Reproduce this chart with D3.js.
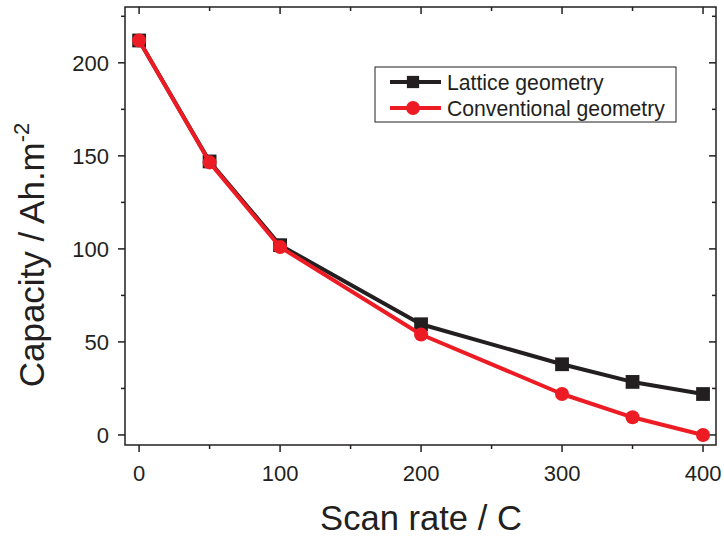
<!DOCTYPE html>
<html>
<head>
<meta charset="utf-8">
<script src="https://cdn.jsdelivr.net/npm/d3@7"></script>
<style>
  body { margin: 0; background: #fff; }
  text { font-family: "Liberation Sans", Arial, sans-serif; fill: #231f20; }
</style>
</head>
<body>
<div id="chart"></div>
<script>
// data
var rates = [0, 50, 100, 200, 300, 350, 400];
var lattice = [212, 147, 102, 59.5, 38, 28.5, 22];
var conventional = [212, 146.5, 101, 54, 22, 9.5, 0];
var xTicks = [0, 100, 200, 300, 400];
var yTicks = [0, 50, 100, 150, 200];
var seriesNames = ["Lattice geometry", "Conventional geometry"];
var seriesColors = ["#231f20", "#ed1c24"];

(function() {
var W = 724, H = 537;
var pL = 125, pR = 716, pT = 7, pB = 445;

var svg = d3.select("#chart").append("svg")
	.attr("width", W).attr("height", H);

var x = d3.scaleLinear().domain([-10, 409.2]).range([pL, pR]);
var y = d3.scaleLinear().domain([-5.4, 230]).range([pB, pT]);

var axisColor = "#231f20";

// frame
svg.append("rect")
	.attr("x", pL).attr("y", pT)
	.attr("width", pR - pL).attr("height", pB - pT)
	.attr("fill", "none").attr("stroke", axisColor).attr("stroke-width", 1.5);

var xMinor = d3.range(0, 401, 50);
var yMinor = d3.range(0, 226, 25);

// bottom axis (outward), top axis (inward)
xMinor.forEach(function(v) {
	var major = xTicks.indexOf(v) >= 0;
	var len = major ? 7 : 4;
	svg.append("line").attr("x1", x(v)).attr("x2", x(v))
		.attr("y1", pB).attr("y2", pB + len)
		.attr("stroke", axisColor).attr("stroke-width", 1.5);
	svg.append("line").attr("x1", x(v)).attr("x2", x(v))
		.attr("y1", pT).attr("y2", pT + len)
		.attr("stroke", axisColor).attr("stroke-width", 1.5);
});
// left axis (outward), right axis (inward)
yMinor.forEach(function(v) {
	var major = yTicks.indexOf(v) >= 0;
	var len = major ? 7 : 4;
	svg.append("line").attr("x1", pL - len).attr("x2", pL)
		.attr("y1", y(v)).attr("y2", y(v))
		.attr("stroke", axisColor).attr("stroke-width", 1.5);
	svg.append("line").attr("x1", pR - len).attr("x2", pR)
		.attr("y1", y(v)).attr("y2", y(v))
		.attr("stroke", axisColor).attr("stroke-width", 1.5);
});

// tick labels
svg.selectAll(".xl").data(xTicks).enter().append("text")
	.attr("x", function(d) { return x(d); })
	.attr("y", pB + 36)
	.attr("text-anchor", "middle")
	.attr("font-size", 22)
	.text(function(d) { return d; });
svg.selectAll(".yl").data(yTicks).enter().append("text")
	.attr("x", pL - 16)
	.attr("y", function(d) { return y(d) + 8; })
	.attr("text-anchor", "end")
	.attr("font-size", 22)
	.text(function(d) { return d; });

// axis titles
svg.append("text")
	.attr("x", 421).attr("y", 530)
	.attr("text-anchor", "middle")
	.attr("font-size", 34.6)
	.text("Scan rate / C");
var yt = svg.append("text")
	.attr("transform", "translate(44,255) rotate(-90)")
	.attr("text-anchor", "middle")
	.attr("font-size", 35);
yt.append("tspan").text("Capacity / Ah.m");
yt.append("tspan").attr("dy", -15).attr("font-size", 22).text("-2");

// series
var line = d3.line()
	.x(function(d) { return x(d[0]); })
	.y(function(d) { return y(d[1]); });

function drawSeries(vals, color, shape) {
	var pts = rates.map(function(r, i) { return [r, vals[i]]; });
	svg.append("path").datum(pts)
		.attr("d", line)
		.attr("fill", "none")
		.attr("stroke", color)
		.attr("stroke-width", 4)
		.attr("stroke-linejoin", "round");
	var sym = d3.symbol().type(shape).size(shape === d3.symbolSquare ? 190 : 155);
	svg.selectAll(null).data(pts).enter().append("path")
		.attr("d", sym)
		.attr("transform", function(d) { return "translate(" + x(d[0]) + "," + y(d[1]) + ")"; })
		.attr("fill", color);
}
drawSeries(lattice, seriesColors[0], d3.symbolSquare);
drawSeries(conventional, seriesColors[1], d3.symbolCircle);

// legend
var lg = svg.append("g");
lg.append("rect")
	.attr("x", 375).attr("y", 67).attr("width", 301).attr("height", 55)
	.attr("fill", "#fff").attr("stroke", axisColor).attr("stroke-width", 1);
var shapes = [d3.symbolSquare, d3.symbolCircle];
seriesNames.forEach(function(name, i) {
	var ly = 82 + i * 26;
	lg.append("line")
		.attr("x1", 390).attr("x2", 441)
		.attr("y1", ly).attr("y2", ly)
		.attr("stroke", seriesColors[i]).attr("stroke-width", 4);
	lg.append("path")
		.attr("d", d3.symbol().type(shapes[i]).size(150))
		.attr("transform", "translate(413," + ly + ")")
		.attr("fill", seriesColors[i]);
	lg.append("text")
		.attr("x", 447).attr("y", ly + 8)
		.attr("font-size", 21.2)
		.text(name);
});
})();
</script>
</body>
</html>
